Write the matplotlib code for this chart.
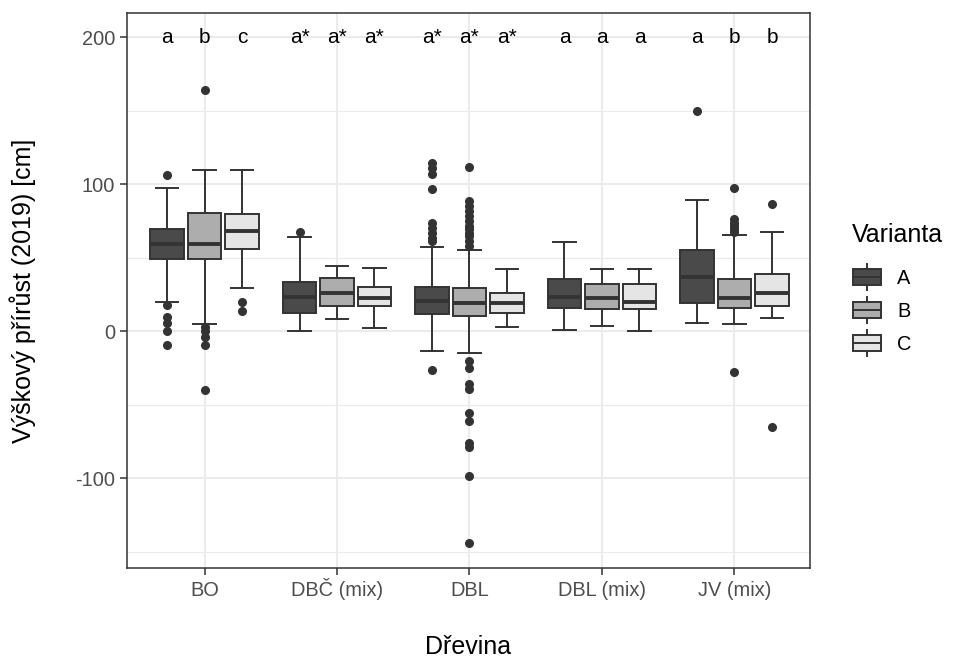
import matplotlib
matplotlib.use('Agg')
import matplotlib.pyplot as plt
from matplotlib.patches import Rectangle
from matplotlib.lines import Line2D
from matplotlib.legend_handler import HandlerBase
import numpy as np

plt.rcParams['font.family'] = ['Liberation Sans', 'DejaVu Sans']
plt.rcParams['axes.unicode_minus'] = False

categories = ['BO', 'DBČ (mix)', 'DBL', 'DBL (mix)', 'JV (mix)']
variants = ['A', 'B', 'C']

# box statistics per variant, one value per category
q1 = {'A': [49.5, 12.2, 11.5, 15.6, 19.0],
      'B': [49.5, 17.6, 10.8, 14.9, 15.6],
      'C': [56.3, 17.6, 12.2, 14.9, 17.6]}
med = {'A': [59.7, 23.7, 21.0, 23.7, 37.3],
       'B': [59.7, 26.4, 19.0, 23.0, 23.0],
       'C': [68.5, 22.4, 19.0, 20.0, 25.8]}
q3 = {'A': [69.8, 33.9, 30.5, 35.3, 55.6],
      'B': [80.7, 36.6, 29.8, 32.5, 35.9],
      'C': [80.0, 30.5, 26.4, 32.5, 39.3]}
whis_lo = {'A': [19.7, 0.0, -13.6, 0.7, 5.4],
           'B': [4.7, 8.1, -15.0, 4.0, 4.7],
           'C': [29.8, 2.0, 2.7, 0.0, 8.8]}
whis_hi = {'A': [97.6, 64.4, 57.6, 61.0, 89.5],
           'B': [109.8, 44.7, 55.6, 42.7, 65.8],
           'C': [110.0, 43.4, 42.7, 42.7, 67.8]}
outliers = {
    'A': [[106.4, 18.0, 10.0, 5.4, 0.0, -9.5],
          [67.8],
          [114.6, 111.0, 107.0, 97.0, 74.0, 70.5, 67.0, 63.7, 61.6, -26.4],
          [],
          [149.8]],
    'B': [[164.0, 2.7, 0.0, -4.0, -9.5, -40.0],
          [],
          [111.8, 88.8, 85.5, 82.0, 78.5, 75.0, 72.0, 69.8, 67.0, 65.0, 61.7, 58.3,
           -20.3, -25.0, -36.0, -39.5, -55.8, -61.0, -76.0, -78.6, -98.3, -143.7],
          [],
          [97.6, 76.6, 74.0, 71.9, 69.8, 67.3, -27.7]],
    'C': [[20.3, 13.6],
          [],
          [],
          [],
          [86.8, -65.0]],
}
letters = {'A': ['a', 'a*', 'a*', 'a', 'a'],
           'B': ['b', 'a*', 'a*', 'a', 'b'],
           'C': ['c', 'a*', 'a*', 'a', 'b']}
letter_y = 200

fills = {'A': '#4a4a4a', 'B': '#adadad', 'C': '#e5e5e5'}
edge = '#333333'
offsets = {'A': -0.283, 'B': 0.0, 'C': 0.283}
box_w = 0.255

fig = plt.figure(figsize=(9.54, 6.59), dpi=100)
ax = fig.add_axes([127/954, 1 - 568/659, (810-127)/954, (568-13)/659])

x = np.arange(len(categories))
for v in variants:
    stats = []
    for i in range(len(categories)):
        stats.append({'med': med[v][i], 'q1': q1[v][i], 'q3': q3[v][i],
                      'whislo': whis_lo[v][i], 'whishi': whis_hi[v][i],
                      'fliers': outliers[v][i]})
    ax.bxp(stats, positions=x + offsets[v], widths=box_w, patch_artist=True,
           manage_ticks=False, capwidths=0.17,
           boxprops=dict(facecolor=fills[v], edgecolor=edge, linewidth=1.4),
           medianprops=dict(color=edge, linewidth=2.8),
           whiskerprops=dict(color=edge, linewidth=1.4),
           capprops=dict(color=edge, linewidth=1.4),
           flierprops=dict(marker='o', markerfacecolor=edge, markeredgecolor=edge,
                           markersize=5.5, linestyle='none'))
    for i in range(len(categories)):
        ax.text(x[i] + offsets[v], letter_y, letters[v][i], ha='center', va='center',
                fontsize=15, color='black', zorder=5)

ax.set_xlim(-0.585, 4.57)
ax.set_ylim(-160.9, 216.5)
ax.set_xticks(x)
ax.set_xticklabels(categories)
ax.set_yticks([-100, 0, 100, 200])
ax.set_yticks([-150, -50, 50, 150], minor=True)
ax.tick_params(axis='both', which='major', labelsize=14.4, labelcolor='#4d4d4d',
               color='#333333', length=5, width=1.1)
ax.tick_params(axis='x', which='major', pad=15)
ax.tick_params(axis='y', which='minor', length=0)
for lbl in ax.get_xticklabels():
    lbl.set_verticalalignment('baseline')
ax.grid(True, which='major', color='#ebebeb', linewidth=1.5)
ax.grid(True, which='minor', axis='y', color='#ebebeb', linewidth=0.8)
ax.set_axisbelow(True)
for s in ax.spines.values():
    s.set_color('#333333')
    s.set_linewidth(1.1)

fig.text(468.5/954, 1 - 647/659, 'Dřevina', fontsize=18, ha='center', va='center')
ax.set_ylabel('Výškový přírůst (2019) [cm]', fontsize=18, labelpad=28)


class BoxKey(HandlerBase):
    def create_artists(self, legend, orig_handle, xdescent, ydescent, width, height,
                       fontsize, trans):
        fc = orig_handle.get_facecolor()
        bw = width * 0.85
        bx = -xdescent + (width - bw) / 2
        bh = height * 0.7
        by = -ydescent + (height - bh) / 2
        cx = -xdescent + width / 2
        whisk = Line2D([cx, cx], [-ydescent - height * 0.05, -ydescent + height * 1.05],
                       color=edge, linewidth=1.4, transform=trans)
        rect = Rectangle((bx, by), bw, bh, facecolor=fc, edgecolor=edge,
                         linewidth=1.4, transform=trans)
        mid = Line2D([bx, bx + bw], [by + bh / 2, by + bh / 2], color=edge,
                     linewidth=1.4, transform=trans)
        return [whisk, rect, mid]


fig.text(852/954, 1 - 235/659, 'Varianta', fontsize=18, ha='left', va='center')
handles = [Rectangle((0, 0), 1, 1, facecolor=fills[v]) for v in variants]
leg = fig.legend(handles, variants, handler_map={Rectangle: BoxKey()},
                 loc='center left', bbox_to_anchor=(833/954, 1 - 310/659),
                 frameon=False, fontsize=14.4,
                 handlelength=1.6, handleheight=1.4, handletextpad=0.7,
                 labelspacing=0.5)

fig.savefig('out.png', dpi=100)
